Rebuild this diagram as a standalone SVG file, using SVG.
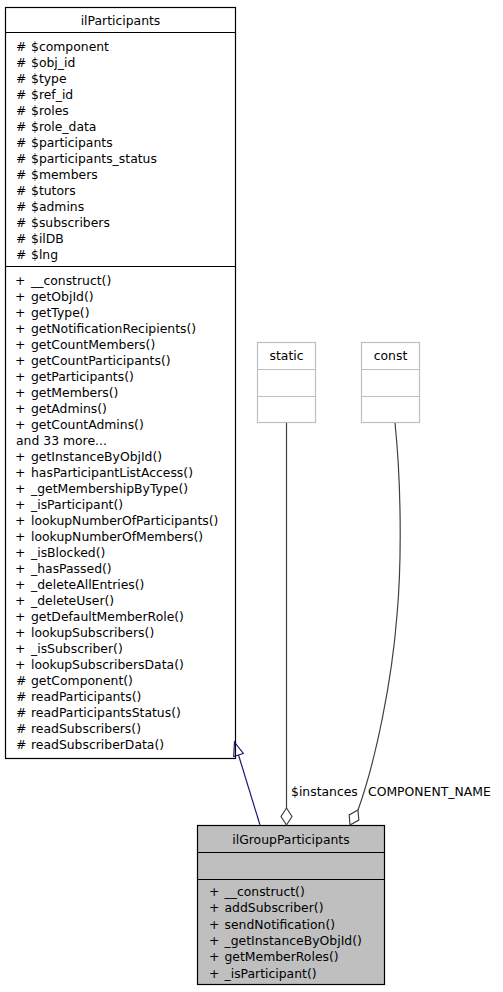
<svg xmlns="http://www.w3.org/2000/svg" width="503" height="992" viewBox="0 0 503 992">
<style>
text{font-family:"DejaVu Sans","Liberation Sans",sans-serif;font-size:12.4px;fill:#000}
.c{text-anchor:middle}
.box{fill:#fff;stroke:#000;stroke-width:1.2}
.gbox{fill:#bfbfbf;stroke:#000;stroke-width:1.2}
.lbox{fill:#fff;stroke:#bfbfbf;stroke-width:1.2}
.edge{fill:none;stroke:#404040;stroke-width:1.2}
.inh{fill:none;stroke:#191970;stroke-width:1.2}
</style>
<rect width="503" height="992" fill="#fff"/>
<g id="ilParticipants">
<rect class="box" x="5.5" y="7.5" width="230" height="751"/>
<line class="box" x1="5.5" y1="32.5" x2="235.5" y2="32.5"/>
<line class="box" x1="5.5" y1="266.5" x2="235.5" y2="266.5"/>
<text class="c" x="120.5" y="24.5">ilParticipants</text>
<text x="16" y="51">#<tspan x="31">$component</tspan></text>
<text x="16" y="67">#<tspan x="31">$obj_id</tspan></text>
<text x="16" y="83">#<tspan x="31">$type</tspan></text>
<text x="16" y="99">#<tspan x="31">$ref_id</tspan></text>
<text x="16" y="115">#<tspan x="31">$roles</tspan></text>
<text x="16" y="131">#<tspan x="31">$role_data</tspan></text>
<text x="16" y="147">#<tspan x="31">$participants</tspan></text>
<text x="16" y="163">#<tspan x="31">$participants_status</tspan></text>
<text x="16" y="179">#<tspan x="31">$members</tspan></text>
<text x="16" y="195">#<tspan x="31">$tutors</tspan></text>
<text x="16" y="211">#<tspan x="31">$admins</tspan></text>
<text x="16" y="227">#<tspan x="31">$subscribers</tspan></text>
<text x="16" y="243">#<tspan x="31">$ilDB</tspan></text>
<text x="16" y="259">#<tspan x="31">$lng</tspan></text>
<text x="15" y="285">+<tspan x="31">__construct()</tspan></text>
<text x="15" y="301">+<tspan x="31">getObjId()</tspan></text>
<text x="15" y="317">+<tspan x="31">getType()</tspan></text>
<text x="15" y="333">+<tspan x="31">getNotificationRecipients()</tspan></text>
<text x="15" y="349">+<tspan x="31">getCountMembers()</tspan></text>
<text x="15" y="365">+<tspan x="31">getCountParticipants()</tspan></text>
<text x="15" y="381">+<tspan x="31">getParticipants()</tspan></text>
<text x="15" y="397">+<tspan x="31">getMembers()</tspan></text>
<text x="15" y="413">+<tspan x="31">getAdmins()</tspan></text>
<text x="15" y="429">+<tspan x="31">getCountAdmins()</tspan></text>
<text x="16" y="445">and 33 more...</text>
<text x="15" y="461">+<tspan x="31">getInstanceByObjId()</tspan></text>
<text x="15" y="477">+<tspan x="31">hasParticipantListAccess()</tspan></text>
<text x="15" y="493">+<tspan x="31">_getMembershipByType()</tspan></text>
<text x="15" y="509">+<tspan x="31">_isParticipant()</tspan></text>
<text x="15" y="525">+<tspan x="31">lookupNumberOfParticipants()</tspan></text>
<text x="15" y="541">+<tspan x="31">lookupNumberOfMembers()</tspan></text>
<text x="15" y="557">+<tspan x="31">_isBlocked()</tspan></text>
<text x="15" y="573">+<tspan x="31">_hasPassed()</tspan></text>
<text x="15" y="589">+<tspan x="31">_deleteAllEntries()</tspan></text>
<text x="15" y="605">+<tspan x="31">_deleteUser()</tspan></text>
<text x="15" y="621">+<tspan x="31">getDefaultMemberRole()</tspan></text>
<text x="15" y="637">+<tspan x="31">lookupSubscribers()</tspan></text>
<text x="15" y="653">+<tspan x="31">_isSubscriber()</tspan></text>
<text x="15" y="669">+<tspan x="31">lookupSubscribersData()</tspan></text>
<text x="16" y="685">#<tspan x="31">getComponent()</tspan></text>
<text x="16" y="701">#<tspan x="31">readParticipants()</tspan></text>
<text x="16" y="717">#<tspan x="31">readParticipantsStatus()</tspan></text>
<text x="16" y="733">#<tspan x="31">readSubscribers()</tspan></text>
<text x="16" y="749">#<tspan x="31">readSubscriberData()</tspan></text>
</g>
<g id="static">
<rect class="lbox" x="257.5" y="342.5" width="58" height="80"/>
<line class="lbox" x1="257.5" y1="369.5" x2="315.5" y2="369.5"/>
<line class="lbox" x1="257.5" y1="396.5" x2="315.5" y2="396.5"/>
<text class="c" x="286.5" y="360">static</text>
</g>
<g id="const">
<rect class="lbox" x="361.5" y="342.5" width="58" height="80"/>
<line class="lbox" x1="361.5" y1="369.5" x2="419.5" y2="369.5"/>
<line class="lbox" x1="361.5" y1="396.5" x2="419.5" y2="396.5"/>
<text class="c" x="390.5" y="360">const</text>
</g>
<g id="ilGroupParticipants">
<rect class="gbox" x="197.5" y="825.5" width="187" height="159"/>
<line class="gbox" x1="197.5" y1="852.5" x2="384.5" y2="852.5"/>
<line class="gbox" x1="197.5" y1="879.5" x2="384.5" y2="879.5"/>
<text class="c" x="291" y="843.5">ilGroupParticipants</text>
<text x="209" y="896">+<tspan x="224.5">__construct()</tspan></text>
<text x="209" y="912.3">+<tspan x="224.5">addSubscriber()</tspan></text>
<text x="209" y="928.6">+<tspan x="224.5">sendNotification()</tspan></text>
<text x="209" y="944.9">+<tspan x="224.5">_getInstanceByObjId()</tspan></text>
<text x="209" y="961.2">+<tspan x="224.5">getMemberRoles()</tspan></text>
<text x="209" y="977.5">+<tspan x="224.5">_isParticipant()</tspan></text>
</g>
<g id="connectors">
<path class="inh" d="M260,825 L238.5,755"/>
<polygon class="inh" fill="#fff" points="234.5,742 243.3,753.5 233.7,756.5"/>
<path class="edge" d="M286.5,423 L286.5,808"/>
<polygon class="edge" fill="#fff" points="286.5,808 292,816.5 286.5,825 281,816.5"/>
<text x="291" y="796">$instances</text>
<path class="edge" d="M395,423 C401,480 402,560 397,615 C392,680 376,760 358,810"/>
<polygon class="edge" fill="#fff" points="358,810 358.8,820.1 350,825 349.2,814.9"/>
<text x="368" y="796">COMPONENT_NAME</text>
</g>
</svg>
